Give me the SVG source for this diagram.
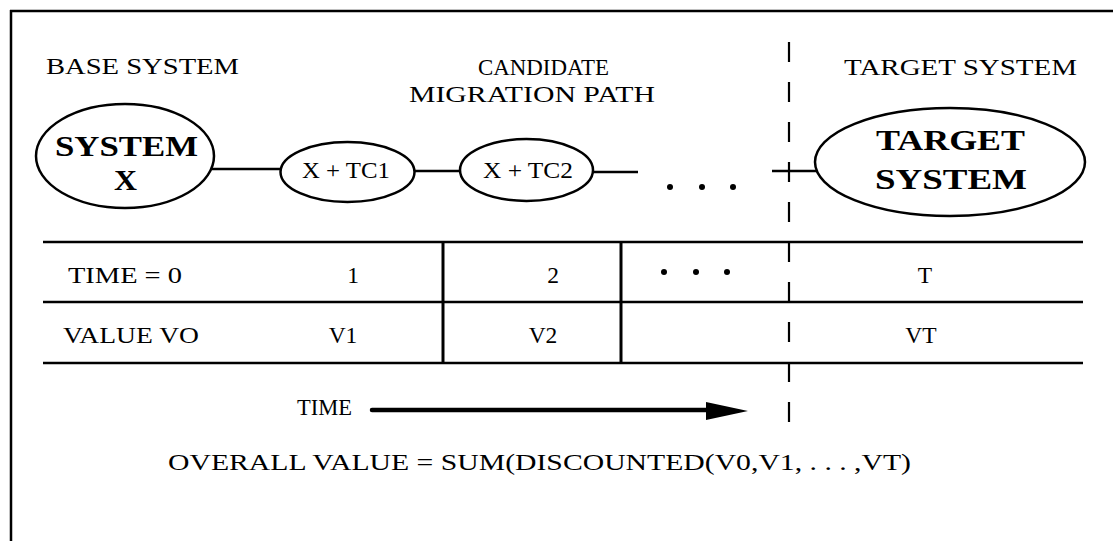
<svg xmlns="http://www.w3.org/2000/svg" width="1113" height="541" viewBox="0 0 1113 541">
<style>
.t{font-family:"Liberation Serif","Times New Roman",serif;font-size:23.5px;fill:#000}
.b{font-family:"Liberation Serif","Times New Roman",serif;font-weight:bold;font-size:30px;fill:#000}
.s{fill:none;stroke:#000;stroke-width:2.5}
.n{fill:#fff;stroke:#000;stroke-width:2.5}
</style>
<rect width="1113" height="541" fill="#fff"/>
<g id="frame">
<line class="s" x1="10" y1="11" x2="1113" y2="11"/>
<line class="s" x1="11" y1="10" x2="11" y2="541"/>
</g>
<g id="headings">
<text class="t" x="46" y="74" textLength="193" lengthAdjust="spacingAndGlyphs">BASE SYSTEM</text>
<text class="t" x="478" y="75" textLength="131" lengthAdjust="spacingAndGlyphs">CANDIDATE</text>
<text class="t" x="409" y="102" textLength="246" lengthAdjust="spacingAndGlyphs">MIGRATION PATH</text>
<text class="t" x="844" y="75" textLength="233" lengthAdjust="spacingAndGlyphs">TARGET SYSTEM</text>
</g>
<g id="connectors">
<line class="s" x1="212" y1="169" x2="281" y2="169"/>
<line class="s" x1="413" y1="171" x2="461" y2="171"/>
<line class="s" x1="592" y1="172" x2="638" y2="172"/>
<line class="s" x1="772" y1="171" x2="817" y2="171"/>
<circle cx="670" cy="187" r="3"/>
<circle cx="702" cy="187" r="3"/>
<circle cx="733" cy="187" r="3"/>
<line x1="789" y1="42" x2="789" y2="423" stroke="#000" stroke-width="2.2" stroke-dasharray="20 20"/>
<line x1="372" y1="410" x2="709" y2="410" stroke="#000" stroke-width="4.5" stroke-linecap="round"/>
<polygon points="706,402 748,411 706,420"/>
</g>
<g id="node-system-x">
<ellipse class="n" cx="125" cy="156" rx="89" ry="52"/>
<text class="b" x="55" y="156" textLength="143" lengthAdjust="spacingAndGlyphs">SYSTEM</text>
<text class="b" x="114" y="190" textLength="23" lengthAdjust="spacingAndGlyphs">X</text>
</g>
<g id="node-tc1">
<ellipse class="n" cx="347.5" cy="172" rx="67" ry="30"/>
<text class="t" x="302" y="178" font-size="22.5" textLength="88" lengthAdjust="spacingAndGlyphs">X + TC1</text>
</g>
<g id="node-tc2">
<ellipse class="n" cx="526.5" cy="170" rx="66.5" ry="31"/>
<text class="t" x="483" y="178" font-size="22.5" textLength="90" lengthAdjust="spacingAndGlyphs">X + TC2</text>
</g>
<g id="node-target">
<ellipse class="n" cx="950" cy="162" rx="135" ry="54"/>
<text class="b" x="876" y="150" font-size="28" textLength="149" lengthAdjust="spacingAndGlyphs">TARGET</text>
<text class="b" x="875" y="189" font-size="28" textLength="152" lengthAdjust="spacingAndGlyphs">SYSTEM</text>
</g>
<g id="table">
<line class="s" x1="43" y1="242" x2="1083" y2="242"/>
<line class="s" x1="43" y1="302" x2="1083" y2="302"/>
<line class="s" x1="43" y1="363" x2="1083" y2="363"/>
<line x1="443" y1="242" x2="443" y2="363" stroke="#000" stroke-width="3"/>
<line x1="621" y1="242" x2="621" y2="363" stroke="#000" stroke-width="3"/>
<text class="t" x="68" y="283" font-size="24" textLength="114" lengthAdjust="spacingAndGlyphs">TIME = 0</text>
<text class="t" x="353" y="283" font-size="24" text-anchor="middle">1</text>
<text class="t" x="553" y="283" font-size="24" text-anchor="middle">2</text>
<circle cx="664" cy="272" r="3"/>
<circle cx="696" cy="272" r="3"/>
<circle cx="727" cy="272" r="3"/>
<text class="t" x="925" y="283" font-size="24" text-anchor="middle">T</text>
<text class="t" x="63" y="343" font-size="24" textLength="136" lengthAdjust="spacingAndGlyphs">VALUE VO</text>
<text class="t" x="343" y="343" font-size="24" text-anchor="middle">V1</text>
<text class="t" x="543" y="343" font-size="24" text-anchor="middle">V2</text>
<text class="t" x="921" y="343" font-size="24" text-anchor="middle">VT</text>
</g>
<g id="footer">
<text class="t" x="297" y="415" font-size="18" textLength="55" lengthAdjust="spacingAndGlyphs">TIME</text>
<text class="t" x="168" y="470" textLength="743" lengthAdjust="spacingAndGlyphs">OVERALL VALUE = SUM(DISCOUNTED(V0,V1, . . . ,VT)</text>
</g>
</svg>
